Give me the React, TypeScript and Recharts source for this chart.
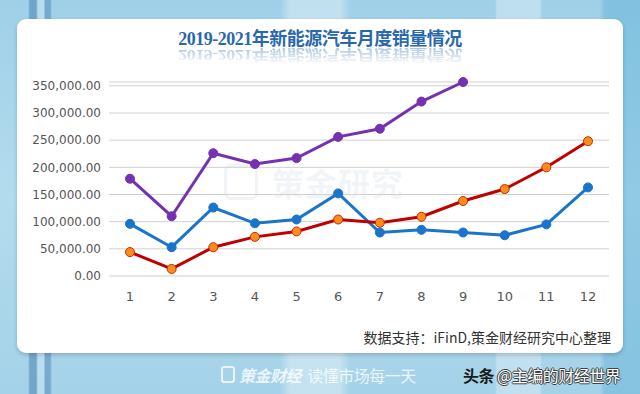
import React from 'react';
import { LineChart, Line, XAxis, YAxis, CartesianGrid } from 'recharts';

const months = ['1', '2', '3', '4', '5', '6', '7', '8', '9', '10', '11', '12'];
const sales2019 = [96000, 53000, 126000, 97000, 104000, 152000, 80000, 85000, 80000, 75000, 95000, 163000];
const sales2020 = [44000, 13000, 53000, 72000, 82000, 104000, 98000, 109000, 138000, 160000, 200000, 248000];
const sales2021: (number | null)[] = [179000, 110000, 226000, 206000, 217000, 256000, 271000, 321000, 357000, null, null, null];
const yTicks = [0, 50000, 100000, 150000, 200000, 250000, 300000, 350000];

const title = '2019-2021年新能源汽车月度销量情况';
const sourceNote = '数据支持：iFinD,策金财经研究中心整理';
const watermark = '策金研究';
const footerLeftA = '策金财经';
const footerLeftB = '  读懂市场每一天';
const footerRightA = '头条';
const footerRightB = ' @主编的财经世界';

const data = months.map((m, i) => ({
  month: m,
  y2019: sales2019[i],
  y2020: sales2020[i],
  y2021: sales2021[i],
}));

const fmt = (v: number) =>
  v.toLocaleString('en-US', { minimumFractionDigits: 2, maximumFractionDigits: 2 });

const bg =
  'linear-gradient(90deg, rgba(60,120,170,0) 0px, rgba(60,120,170,0) 28px, rgba(50,110,165,0.45) 30px, rgba(50,110,165,0.45) 36px, rgba(255,255,255,0.25) 38px, rgba(255,255,255,0.25) 44px, rgba(50,110,165,0.4) 45px, rgba(50,110,165,0.4) 50px, rgba(60,120,170,0) 52px, rgba(60,120,170,0) 280px, rgba(255,255,255,0.35) 290px, rgba(255,255,255,0.35) 340px, rgba(60,120,170,0) 350px, rgba(60,120,170,0) 495px, rgba(255,255,255,0.3) 497px, rgba(255,255,255,0.3) 540px, rgba(60,120,170,0) 542px, rgba(60,120,170,0) 600px, rgba(40,150,200,0.25) 605px, rgba(40,150,200,0.25) 640px), linear-gradient(180deg, #9fd0e8 0%, #b3dcee 50%, #a4d2e8 100%)';

const titleStyle: React.CSSProperties = {
  position: 'absolute',
  left: 0,
  width: 640,
  textAlign: 'center',
  fontFamily: '"Liberation Serif", "DejaVu Serif", "Noto Sans CJK SC", serif',
  fontWeight: 700,
  fontSize: 18,
  lineHeight: '20px',
  color: '#2a68ad',
  letterSpacing: -0.5,
  whiteSpace: 'pre',
};

export default function App() {
  return (
    <div
      style={{
        position: 'fixed',
        left: 0,
        top: 0,
        width: 640,
        height: 394,
        overflow: 'hidden',
        background: bg,
        fontFamily: '"DejaVu Sans", "Noto Sans CJK SC", sans-serif',
      }}
    >
      {/* white panel */}
      <div
        style={{
          position: 'absolute',
          left: 17,
          top: 19,
          width: 606,
          height: 334,
          background: '#ffffff',
          borderRadius: 9,
          boxShadow: '0 2px 4px rgba(0,0,0,0.18)',
        }}
      />
      {/* title */}
      <div style={{ ...titleStyle, top: 29 }}>{title}</div>
      {/* title reflection */}
      <div
        style={{
          ...titleStyle,
          top: 27,
          transform: 'scaleY(-0.8)',
          transformOrigin: 'center bottom',
          opacity: 0.4,
          WebkitMaskImage: 'linear-gradient(0deg, rgba(0,0,0,1) 0%, rgba(0,0,0,0.1) 100%)',
          maskImage: 'linear-gradient(0deg, rgba(0,0,0,1) 0%, rgba(0,0,0,0.1) 100%)',
        }}
      >
        {title}
      </div>
      {/* watermark */}
      <div
        style={{
          position: 'absolute',
          left: 224,
          top: 164,
          width: 34,
          height: 36,
          border: '3px solid rgba(200,210,220,0.25)',
          borderRadius: 7,
          boxSizing: 'border-box',
        }}
      />
      <div
        style={{
          position: 'absolute',
          left: 272,
          top: 162,
          fontSize: 32,
          lineHeight: '40px',
          fontWeight: 700,
          fontFamily: '"Noto Sans CJK SC", sans-serif',
          color: 'rgba(200,210,220,0.22)',
          letterSpacing: 1,
        }}
      >
        {watermark}
      </div>
      {/* chart */}
      <div style={{ position: 'absolute', left: 0, top: 0 }}>
        <LineChart
          width={640}
          height={394}
          data={data}
          margin={{ top: 82, right: 31, bottom: 88, left: 39 }}
        >
          <CartesianGrid horizontal vertical={false} stroke="#d0d0d0" strokeWidth={1} />
          <XAxis
            dataKey="month"
            axisLine={false}
            tickLine={false}
            tickMargin={10}
            height={30}
            padding={{ left: 21, right: 21 }}
            tick={{ fill: '#555555', fontSize: 13 }}
          />
          <YAxis
            domain={[0, 350000]}
            ticks={yTicks}
            width={70}
            axisLine={false}
            tickLine={false}
            tickFormatter={fmt}
            tick={{ fill: '#555555', fontSize: 12 }}
            interval={0}
          />
          <Line
            type="linear"
            dataKey="y2019"
            stroke="#1a74cc"
            strokeWidth={3}
            dot={{ r: 4.5, fill: '#1a74cc', stroke: '#1a74cc', strokeWidth: 1 }}
            isAnimationActive={false}
          />
          <Line
            type="linear"
            dataKey="y2020"
            stroke="#c00000"
            strokeWidth={3}
            dot={{ r: 4.5, fill: '#ff8a1e', stroke: '#c03000', strokeWidth: 1 }}
            isAnimationActive={false}
          />
          <Line
            type="linear"
            dataKey="y2021"
            stroke="#7432b0"
            strokeWidth={3}
            dot={{ r: 4.5, fill: '#7432b0', stroke: '#7432b0', strokeWidth: 1 }}
            isAnimationActive={false}
          />
        </LineChart>
      </div>
      {/* source note */}
      <div
        style={{
          position: 'absolute',
          right: 29,
          top: 327,
          fontSize: 14,
          lineHeight: '20px',
          fontFamily: '"Noto Sans CJK SC", sans-serif',
          color: '#333333',
          letterSpacing: 0,
        }}
      >
        {sourceNote}
      </div>
      {/* footer left */}
      <div
        style={{
          position: 'absolute',
          left: 221,
          top: 366,
          width: 14,
          height: 17,
          border: '2px solid rgba(255,255,255,0.75)',
          borderRadius: 3,
          boxSizing: 'border-box',
        }}
      />
      <div
        style={{
          position: 'absolute',
          left: 239,
          top: 364,
          fontSize: 16,
          lineHeight: '22px',
          fontFamily: '"Noto Sans CJK SC", sans-serif',
          color: 'rgba(255,255,255,0.8)',
          whiteSpace: 'pre',
          letterSpacing: -0.5,
        }}
      >
        <span style={{ fontWeight: 700, fontStyle: 'italic' }}>{footerLeftA}</span>
        <span>{footerLeftB}</span>
      </div>
      {/* footer right */}
      <div
        style={{
          position: 'absolute',
          left: 463,
          top: 364,
          fontSize: 16,
          lineHeight: '22px',
          fontFamily: '"Noto Sans CJK SC", sans-serif',
          whiteSpace: 'pre',
          letterSpacing: -0.5,
        }}
      >
        <span style={{ color: '#1a1a1a', fontWeight: 700 }}>{footerRightA}</span>
        <span
          style={{
            color: '#ffffff',
            textShadow:
              '0 0 1px #333, 1px 0 0 #444, -1px 0 0 #444, 0 1px 0 #444, 0 -1px 0 #444',
          }}
        >
          {footerRightB}
        </span>
      </div>
    </div>
  );
}
